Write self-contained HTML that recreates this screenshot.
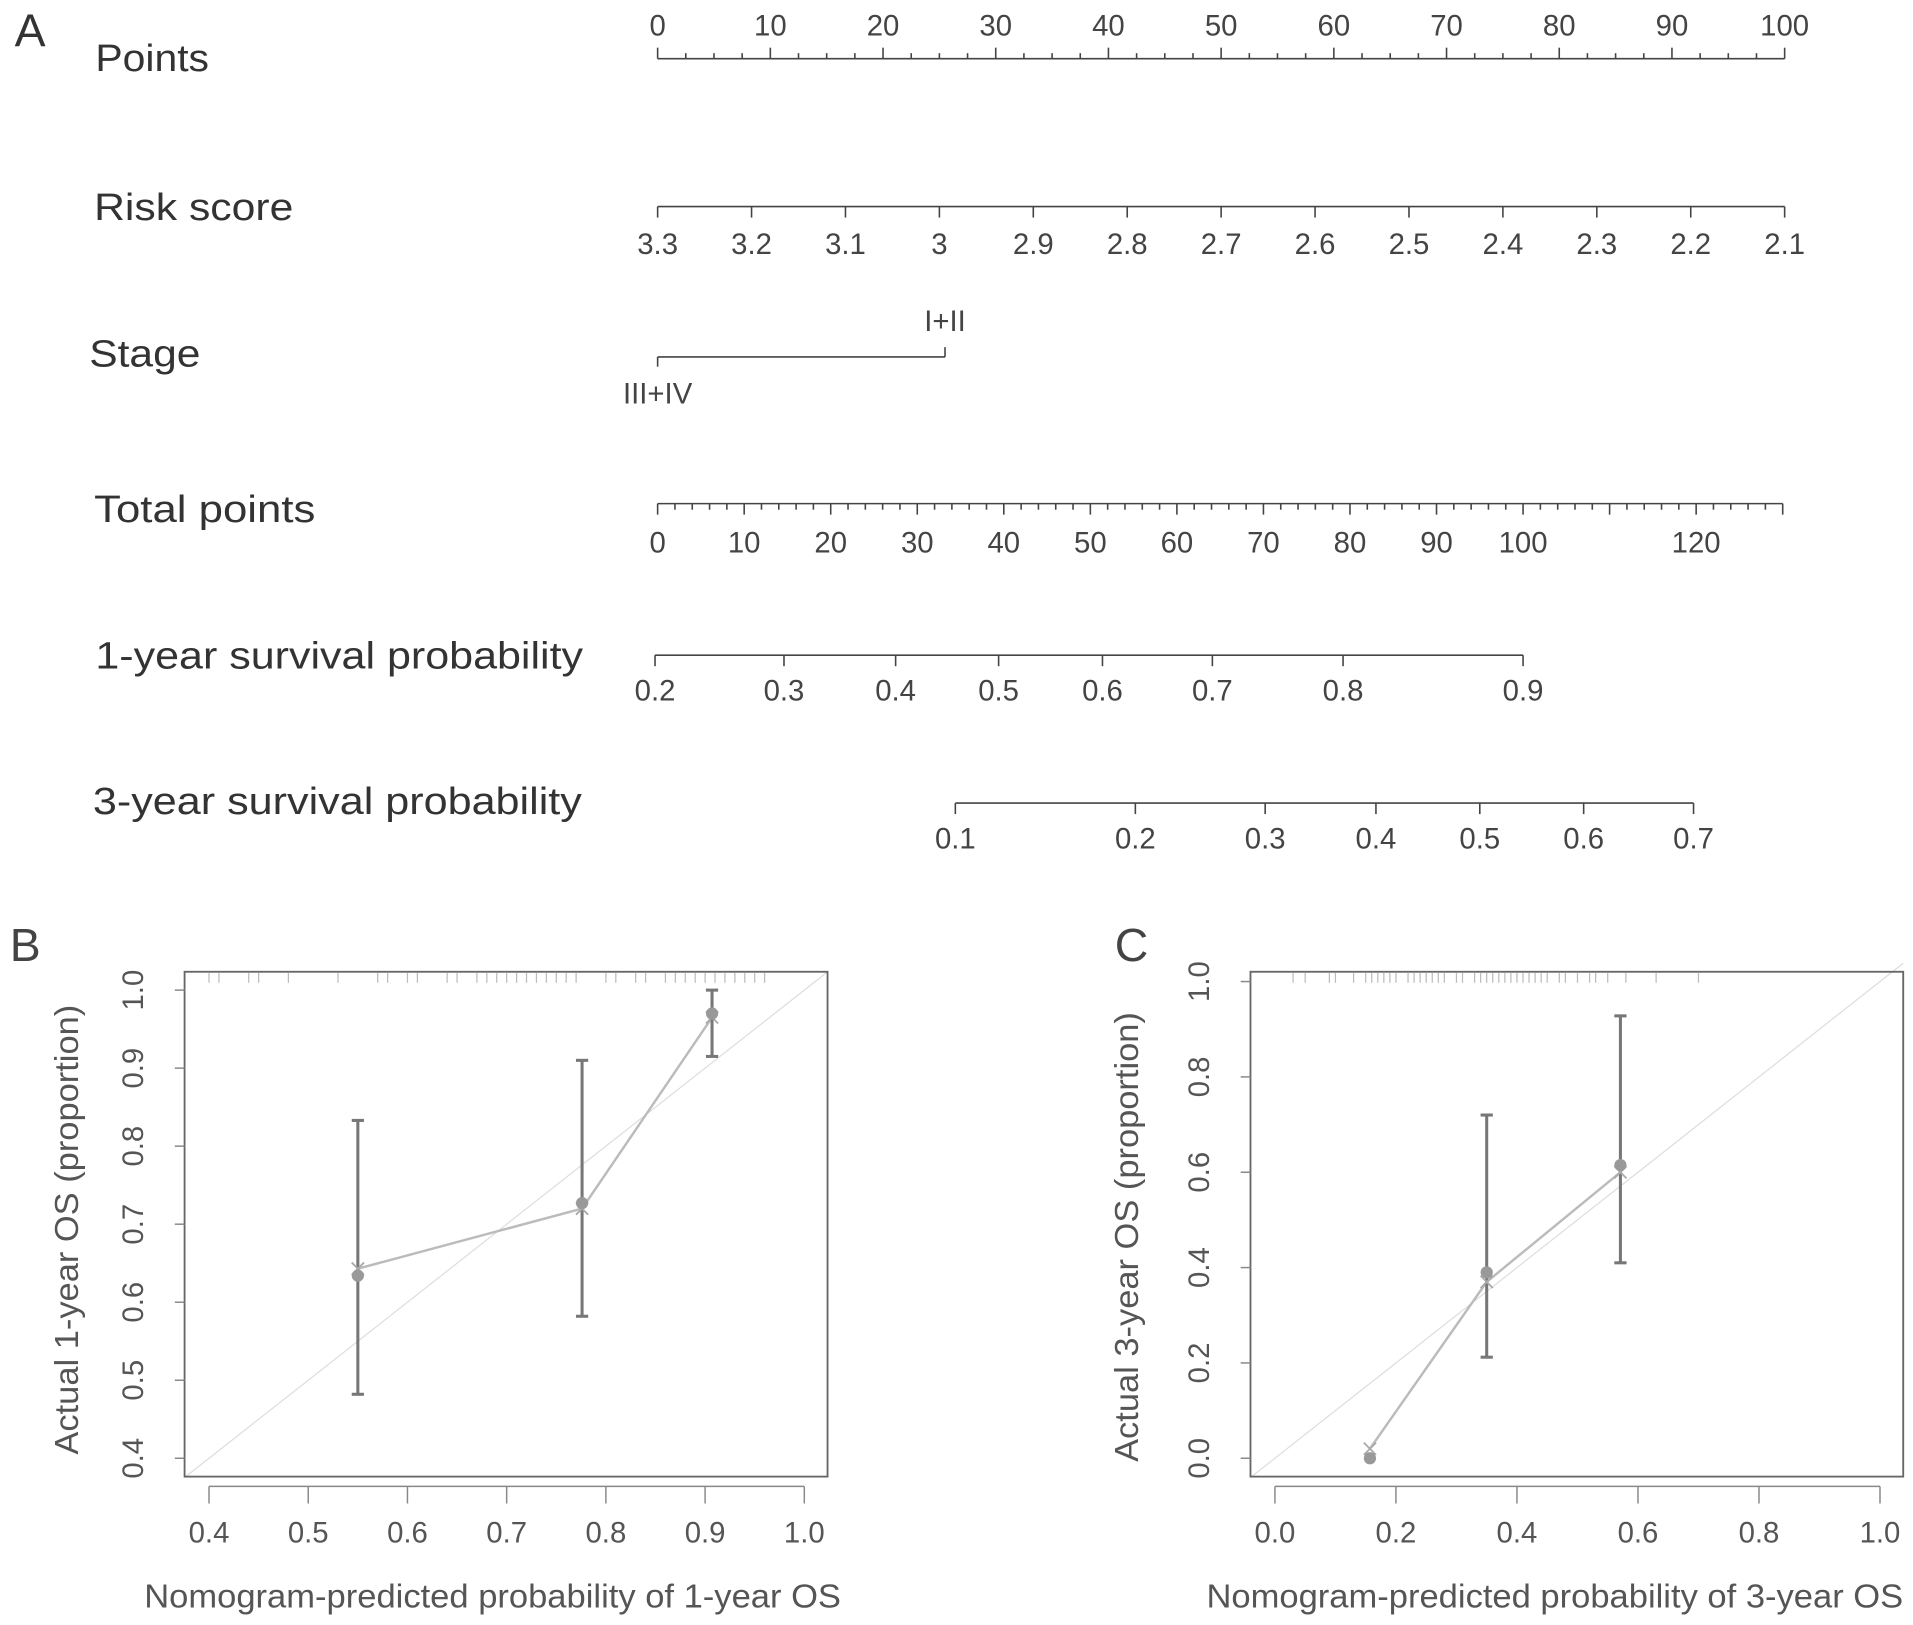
<!DOCTYPE html>
<html><head><meta charset="utf-8"><style>
html,body{margin:0;padding:0;background:#fff;}
svg{display:block;font-family:"Liberation Sans",sans-serif;}
</style></head><body>
<svg id="fig" width="1913" height="1625" viewBox="0 0 1565 1329.4" preserveAspectRatio="none" xmlns="http://www.w3.org/2000/svg">
<g id="nomo"></g>
<g id="calB"></g>
<g id="calC"></g>
</svg>
<script>
// ---- Nomogram data ----
const pointsTicks=[0,10,20,30,40,50,60,70,80,90,100];
const riskTicks=["3.3","3.2","3.1","3","2.9","2.8","2.7","2.6","2.5","2.4","2.3","2.2","2.1"];
const riskValues=[3.3,3.2,3.1,3.0,2.9,2.8,2.7,2.6,2.5,2.4,2.3,2.2,2.1];
const stageLabels=["III+IV","I+II"];
const stagePoints=[0,25.5];
const totalTicks=[0,10,20,30,40,50,60,70,80,90,100,120];
const totalMax=130;
const surv1Ticks=[0.2,0.3,0.4,0.5,0.6,0.7,0.8,0.9];
const surv1Points=[-0.3,14.6,27.5,39.4,51.4,64.1,79.2,100];
const surv3Ticks=[0.1,0.2,0.3,0.4,0.5,0.6,0.7];
const surv3Points=[34.4,55.2,70.2,83.0,95.0,107.0,119.7];

// ---- Calibration data ----
const b_pred=[0.55,0.776,0.907];
const b_obs=[0.634,0.727,0.97];
const b_lo=[0.482,0.582,0.915];
const b_hi=[0.833,0.91,1.0];
const b_bc=[0.643,0.72,0.965];
const b_xticks=[0.4,0.5,0.6,0.7,0.8,0.9,1.0];
const b_yticks=[0.4,0.5,0.6,0.7,0.8,0.9,1.0];
const b_rug=[0.4,0.41,0.44,0.45,0.48,0.53,0.57,0.58,0.6,0.61,0.64,0.65,0.67,0.68,0.69,0.7,0.71,0.72,0.73,0.74,0.75,0.76,0.77,0.8,0.81,0.83,0.84,0.86,0.87,0.88,0.89,0.9,0.91,0.92,0.93,0.94,0.95,0.96];
const c_pred=[0.157,0.35,0.571];
const c_obs=[0.0,0.39,0.615];
const c_lo=[0.0,0.212,0.41];
const c_hi=[0.0,0.72,0.928];
const c_bc=[0.02,0.37,0.6];
const c_xticks=[0.0,0.2,0.4,0.6,0.8,1.0];
const c_yticks=[0.0,0.2,0.4,0.6,0.8,1.0];
const c_rug=[0.03,0.05,0.09,0.1,0.13,0.15,0.16,0.17,0.18,0.19,0.2,0.22,0.23,0.24,0.25,0.26,0.27,0.28,0.3,0.31,0.33,0.34,0.35,0.36,0.37,0.38,0.39,0.4,0.41,0.42,0.43,0.44,0.45,0.47,0.48,0.5,0.52,0.53,0.55,0.58,0.63,0.7];

const NS="http://www.w3.org/2000/svg";
function mk(parent,tag,attrs,text){const e=document.createElementNS(NS,tag);for(const k in attrs)e.setAttribute(k,attrs[k]);if(text!==undefined)e.textContent=text;parent.appendChild(e);return e;}

// ---- Nomogram ----
const N=document.getElementById('nomo');
const px=p=>538+p*(1460-538)/100;
const tx=p=>538+p*(1246-538)/100;
const NC="#444";
function title(x,y,s,name,len){const t=mk(N,'text',{x:x,y:y,'font-size':31,fill:'#333',textLength:len,lengthAdjust:'spacingAndGlyphs'},s);}
let t=mk(N,'text',{x:12,y:38,'font-size':38,fill:'#333'},'A');
title(78,58,'Points','points-label',93);
title(77,180,'Risk score','risk-score-label',163);
title(73,300,'Stage','stage-label',91);
title(77,427,'Total points','total-points-label',181);
title(78,547,'1-year survival probability','1-year-survival-label',399);
title(76,666,'3-year survival probability','3-year-survival-label',400);
function line(g,x1,y1,x2,y2,c,w){return mk(g,'line',{x1:x1,y1:y1,x2:x2,y2:y2,stroke:c,'stroke-width':w||1.3});}
function lab(g,x,y,s,fs,c){return mk(g,'text',{x:x,y:y,'font-size':fs||24,fill:c||'#444','text-anchor':'middle'},s);}
// points axis
let g=mk(N,'g',{});
line(g,px(0),48,px(100),48,NC);
for(let p=0;p<=100;p+=2.5){const maj=p%10===0;line(g,px(p),48,px(p),maj?39:43.5,NC);}
pointsTicks.forEach(p=>lab(g,px(p),29,String(p)));
// risk score
g=mk(N,'g',{});
const rx=v=>px((3.3-v)/(3.3-2.1)*100);
line(g,rx(3.3),169,rx(2.1),169,NC);
riskValues.forEach((v,i)=>{line(g,rx(v),169,rx(v),178,NC);lab(g,rx(v),208,riskTicks[i]);});
// stage
g=mk(N,'g',{});
line(g,px(stagePoints[0]),292,px(stagePoints[1]),292,NC);
line(g,px(stagePoints[0]),292,px(stagePoints[0]),300,NC);
line(g,px(stagePoints[1]),292,px(stagePoints[1]),284,NC);
lab(g,px(stagePoints[0]),330,stageLabels[0]);
lab(g,px(stagePoints[1]),271,stageLabels[1]);
// total points
g=mk(N,'g',{});
line(g,tx(0),412,tx(totalMax),412,NC);
for(let p=0;p<=totalMax;p+=2){const maj=p%10===0;line(g,tx(p),412,tx(p),maj?421:417,NC);}
totalTicks.forEach(p=>lab(g,tx(p),452,String(p)));
// survival axes
function survAxis(name,ticks,pts,y){const g=mk(N,'g',{});
 line(g,tx(pts[0]),y,tx(pts[pts.length-1]),y,NC);
 ticks.forEach((v,i)=>{line(g,tx(pts[i]),y,tx(pts[i]),y+9,NC);lab(g,tx(pts[i]),y+37,v.toFixed(1));});}
survAxis('1-year-survival-axis',surv1Ticks,surv1Points,536);
survAxis('3-year-survival-axis',surv3Ticks,surv3Points,657);

// ---- Calibration plots ----
function cal(id,o){
 const G=document.getElementById(id);
 const X=v=>o.x0+(v-o.xa)*(o.x1-o.x0)/(o.xb-o.xa);
 const Y=v=>o.y0+(v-o.ya)*(o.y1-o.y0)/(o.yb-o.ya);
 const GR="#777";
 let t=mk(G,'text',{x:o.labx,y:786,'font-size':38,fill:'#444'},o.letter);
 
 const lx0=(o.bl-o.x0)/(o.x1-o.x0)*(o.xb-o.xa)+o.xa, lx1=(o.br-o.x0)/(o.x1-o.x0)*(o.xb-o.xa)+o.xa;
 const d=mk(G,'line',{x1:X(lx0),y1:Y(lx0),x2:X(lx1),y2:Y(lx1),stroke:'#ddd','stroke-width':1});
 
 const rg=mk(G,'g',{});
 o.rug.forEach(v=>line(rg,X(v),o.bt+1,X(v),o.bt+9,'#bbb',1));
 const pl=mk(G,'polyline',{points:o.pred.map((p,i)=>X(p)+','+Y(o.bc[i])).join(' '),fill:'none',stroke:'#bbb','stroke-width':2});
 
 o.pred.forEach((p,i)=>{
  const eg=mk(G,'g',{});
  if(o.hi[i]>o.lo[i]){line(eg,X(p),Y(o.lo[i]),X(p),Y(o.hi[i]),GR,2.5);
   line(eg,X(p)-5,Y(o.lo[i]),X(p)+5,Y(o.lo[i]),GR,2.5);line(eg,X(p)-5,Y(o.hi[i]),X(p)+5,Y(o.hi[i]),GR,2.5);}
  const xs=X(p),ys=Y(o.bc[i]);
  line(eg,xs-5,ys-5,xs+5,ys+5,'#aaa',1.5);line(eg,xs-5,ys+5,xs+5,ys-5,'#aaa',1.5);
  const c=mk(G,'circle',{cx:X(p),cy:Y(o.obs[i]),r:5,fill:'#999'});
  
 });
 const b=mk(G,'rect',{x:o.bl,y:o.bt,width:o.br-o.bl,height:o.bb-o.bt,fill:'none',stroke:'#666','stroke-width':1.5});
 
 const xg=mk(G,'g',{});
 line(xg,X(o.xt[0]),o.bb+8,X(o.xt[o.xt.length-1]),o.bb+8,'#888',1.2);
 o.xt.forEach(v=>{line(xg,X(v),o.bb+8,X(v),o.bb+22,'#888',1.2);lab(xg,X(v),o.bb+54,v.toFixed(1),24,'#555');});
 const yg=mk(G,'g',{});
 o.yt.forEach(v=>{line(yg,o.bl-8,Y(v),o.bl,Y(v),'#888',1.2);
  mk(yg,'text',{x:0,y:0,'font-size':24,fill:'#555','text-anchor':'middle',transform:`translate(${o.bl-34},${Y(v)}) rotate(-90)`},v.toFixed(1));});
 let yt=mk(G,'text',{x:0,y:0,'font-size':27,fill:'#555','text-anchor':'middle',textLength:368,lengthAdjust:'spacingAndGlyphs',transform:`translate(${o.ylx},${o.ylc}) rotate(-90)`},o.ytitle);
 
 let xt=mk(G,'text',{x:o.xtx,y:1315,'font-size':27,fill:'#555','text-anchor':'middle',textLength:570,lengthAdjust:'spacingAndGlyphs'},o.xtitle);
 
}
cal('calB',{letter:'B',labx:8,x0:171,x1:658,xa:0.4,xb:1.0,y0:1193,y1:810,ya:0.4,yb:1.0,bl:151,br:677,bt:795,bb:1208,
 pred:b_pred,obs:b_obs,lo:b_lo,hi:b_hi,bc:b_bc,xt:b_xticks,yt:b_yticks,rug:b_rug,ylx:64,ylc:1006,xtx:403,
 ytitle:'Actual 1-year OS (proportion)',xtitle:'Nomogram-predicted probability of 1-year OS'});
cal('calC',{letter:'C',labx:912,x0:1043,x1:1538,xa:0,xb:1.0,y0:1193,y1:803,ya:0,yb:1.0,bl:1023,br:1557,bt:795,bb:1208,
 pred:c_pred,obs:c_obs,lo:c_lo,hi:c_hi,bc:c_bc,xt:c_xticks,yt:c_yticks,rug:c_rug,ylx:931,ylc:1012,xtx:1272,
 ytitle:'Actual 3-year OS (proportion)',xtitle:'Nomogram-predicted probability of 3-year OS'});
</script>
</body></html>
